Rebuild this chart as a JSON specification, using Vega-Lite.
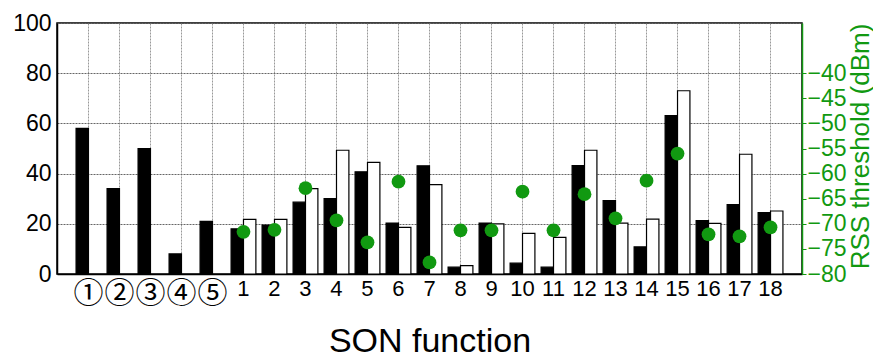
{
  "$schema": "https://vega.github.io/schema/vega-lite/v6.json",
  "width": 745,
  "height": 251,
  "autosize": "none",
  "padding": {"left": 57, "top": 23, "right": 71, "bottom": 85},
  "config": {
    "font": "Liberation Sans",
    "view": {"stroke": "black", "strokeWidth": 1.5},
    "axis": {"labelFont": "Liberation Sans", "titleFont": "Liberation Sans", "labelColor": "black", "titleColor": "black", "titleFontWeight": "normal"}
  },
  "datasets": {
    "bars": [
      {"cat": "①", "series": "a", "value": 58},
      {"cat": "②", "series": "a", "value": 34},
      {"cat": "③", "series": "a", "value": 50},
      {"cat": "④", "series": "a", "value": 8},
      {"cat": "⑤", "series": "a", "value": 21},
      {"cat": "1", "series": "a", "value": 18},
      {"cat": "1", "series": "b", "value": 21.8},
      {"cat": "2", "series": "a", "value": 19.5},
      {"cat": "2", "series": "b", "value": 21.8},
      {"cat": "3", "series": "a", "value": 28.6},
      {"cat": "3", "series": "b", "value": 34},
      {"cat": "4", "series": "a", "value": 30},
      {"cat": "4", "series": "b", "value": 49.3},
      {"cat": "5", "series": "a", "value": 40.7},
      {"cat": "5", "series": "b", "value": 44.5},
      {"cat": "6", "series": "a", "value": 20.3},
      {"cat": "6", "series": "b", "value": 18.6},
      {"cat": "7", "series": "a", "value": 43.1},
      {"cat": "7", "series": "b", "value": 35.6},
      {"cat": "8", "series": "a", "value": 2.7},
      {"cat": "8", "series": "b", "value": 3.3},
      {"cat": "9", "series": "a", "value": 20.3},
      {"cat": "9", "series": "b", "value": 20},
      {"cat": "10", "series": "a", "value": 4.3},
      {"cat": "10", "series": "b", "value": 16.2},
      {"cat": "11", "series": "a", "value": 2.7},
      {"cat": "11", "series": "b", "value": 14.6},
      {"cat": "12", "series": "a", "value": 43.2},
      {"cat": "12", "series": "b", "value": 49.3},
      {"cat": "13", "series": "a", "value": 29.2},
      {"cat": "13", "series": "b", "value": 20.3},
      {"cat": "14", "series": "a", "value": 10.8},
      {"cat": "14", "series": "b", "value": 21.9},
      {"cat": "15", "series": "a", "value": 63.1},
      {"cat": "15", "series": "b", "value": 73},
      {"cat": "16", "series": "a", "value": 21.3},
      {"cat": "16", "series": "b", "value": 20.2},
      {"cat": "17", "series": "a", "value": 27.6},
      {"cat": "17", "series": "b", "value": 47.7},
      {"cat": "18", "series": "a", "value": 24.5},
      {"cat": "18", "series": "b", "value": 25.1}
    ],
    "rss": [
      {"cat": "1", "rss": -71.6},
      {"cat": "2", "rss": -71.2},
      {"cat": "3", "rss": -62.9},
      {"cat": "4", "rss": -69.3},
      {"cat": "5", "rss": -73.7},
      {"cat": "6", "rss": -61.6},
      {"cat": "7", "rss": -77.7},
      {"cat": "8", "rss": -71.3},
      {"cat": "9", "rss": -71.3},
      {"cat": "10", "rss": -63.6},
      {"cat": "11", "rss": -71.3},
      {"cat": "12", "rss": -64.1},
      {"cat": "13", "rss": -68.9},
      {"cat": "14", "rss": -61.4},
      {"cat": "15", "rss": -56.0},
      {"cat": "16", "rss": -72.1},
      {"cat": "17", "rss": -72.5},
      {"cat": "18", "rss": -70.7}
    ]
  },
  "encoding": {
    "x": {
      "field": "cat",
      "type": "nominal",
      "sort": null,
      "scale": {
        "domain": ["①", "②", "③", "④", "⑤", "1", "2", "3", "4", "5", "6", "7", "8", "9", "10", "11", "12", "13", "14", "15", "16", "17", "18"],
        "paddingInner": 0.2,
        "paddingOuter": 0.615
      },
      "axis": {
        "title": "SON function",
        "titleFontSize": 34,
        "titlePadding": 16,
        "labelFontSize": {"condition": {"test": "indexof(['①','②','③','④','⑤'], datum.value) >= 0", "value": 30}, "value": 22},
        "labelAngle": 0,
        "labelPadding": 4,
        "labelFont": "Liberation Sans, Noto Sans CJK SC, DejaVu Sans",
        "bandPosition": 0.5,
        "grid": true,
        "gridColor": "#999999",
        "gridDash": [2, 1],
        "gridWidth": 1,
        "ticks": false,
        "domainColor": "black",
        "domainWidth": 1.5
      }
    }
  },
  "layer": [
    {
      "data": {"name": "bars"},
      "mark": {"type": "bar", "stroke": "black", "strokeWidth": 1.2},
      "encoding": {
        "xOffset": {"field": "series", "type": "nominal", "scale": {"domain": ["a", "b"]}},
        "y": {
          "field": "value",
          "type": "quantitative",
          "scale": {"domain": [0, 100], "nice": false},
          "axis": {
            "title": null,
            "values": [0, 20, 40, 60, 80, 100],
            "labelFontSize": 23,
            "labelPadding": 6,
            "ticks": false,
            "grid": true,
            "gridColor": "#666666",
            "gridDash": [2, 1],
            "gridWidth": 1,
            "domainColor": "black",
            "domainWidth": 1.5
          }
        },
        "fill": {
          "field": "series",
          "type": "nominal",
          "scale": {"domain": ["a", "b"], "range": ["black", "white"]},
          "legend": null
        }
      }
    },
    {
      "data": {"name": "rss"},
      "mark": {"type": "point", "filled": true, "shape": "circle", "size": 190, "color": "#119911", "opacity": 1},
      "encoding": {
        "y": {
          "field": "rss",
          "type": "quantitative",
          "scale": {"domain": [-80, -30], "nice": false},
          "axis": {
            "orient": "right",
            "title": "RSS threshold (dBm)",
            "titleColor": "#119911",
            "titleFontSize": 26,
            "titleAngle": 270,
            "titleAlign": "center",
            "titleBaseline": "middle",
            "titleX": 58,
            "titleY": 123,
            "labelColor": "#119911",
            "labelFontSize": 23,
            "labelPadding": 1,
            "values": [-80, -75, -70, -65, -60, -55, -50, -45, -40],
            "tickColor": "#119911",
            "tickSize": 4,
            "domainColor": "#119911",
            "domainWidth": 1.5,
            "grid": false
          }
        }
      }
    }
  ],
  "resolve": {"scale": {"y": "independent"}}
}
